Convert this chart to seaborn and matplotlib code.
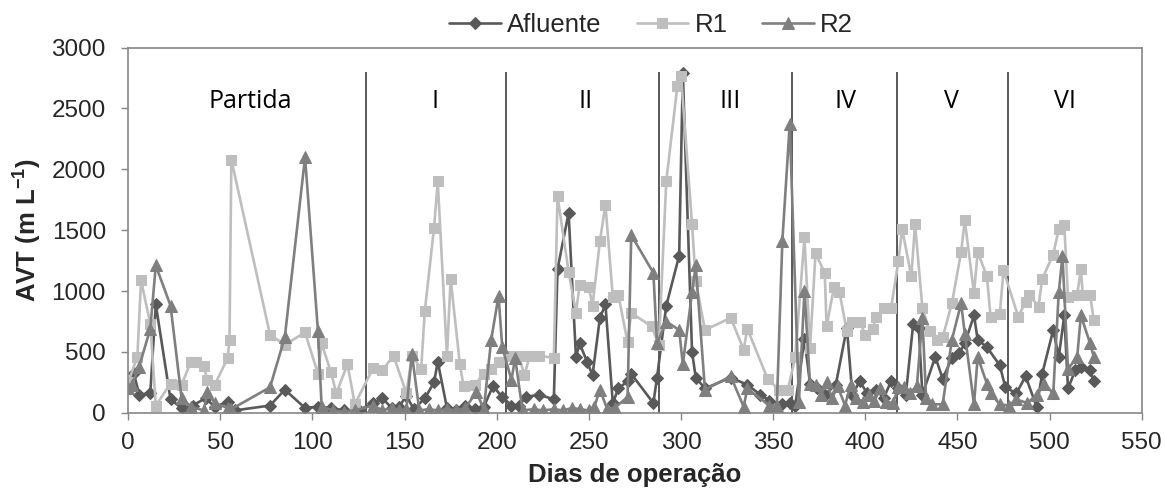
import matplotlib
matplotlib.use("Agg")
import matplotlib.pyplot as plt
import seaborn as sns
import pandas as pd

# Operation day and volatile-acid concentration for each stream
afluente_dias = [0, 3, 6, 12, 15, 23, 29, 35, 42, 47, 54, 58, 77, 85, 96, 103, 110, 117, 125,
                 133, 138, 143, 147, 151, 155, 161, 166, 168, 173, 178, 183, 188, 193, 198, 203,
                 208, 212, 216, 223, 231, 233, 239, 243, 245, 249, 252, 256, 259, 263, 266, 271,
                 273, 285, 287, 292, 299, 301, 306, 308, 313, 327, 336, 343, 348, 355, 359, 362,
                 367, 370, 374, 378, 384, 390, 393, 397, 401, 406, 410, 414, 418, 422, 426, 429,
                 431, 438, 442, 447, 451, 454, 459, 461, 466, 473, 476, 482, 487, 493, 496, 502,
                 505, 508, 510, 514, 517, 522, 524]
afluente_avt = [200, 330, 150, 160, 890, 110, 40, 60, 120, 50, 90, 20, 60, 190, 40, 50, 40, 20, 20,
                80, 120, 40, 50, 140, 30, 120, 250, 420, 40, 20, 60, 30, 50, 220, 130,
                60, 60, 130, 150, 110, 1180, 1640, 460, 570, 420, 310, 780, 890, 80, 200, 260,
                320, 80, 290, 880, 1290, 2790, 500, 290, 200, 290, 230, 150, 100, 70, 80, 60,
                610, 240, 200, 150, 230, 700, 150, 260, 160, 190, 120, 260, 200, 150, 730, 700,
                150, 460, 280, 450, 490, 570, 800, 600, 540, 390, 210, 160, 300, 50, 320, 680,
                460, 800, 200, 350, 380, 350, 260]

r1_dias = [0, 5, 7, 12, 15, 23, 29, 34, 37, 41, 43, 47, 54, 55, 56, 77, 85, 96, 103, 105, 110,
           113, 119, 123, 133, 138, 144, 151, 154, 159, 161, 166, 168, 173, 175, 180, 182, 188,
           193, 197, 201, 207, 212, 215, 218, 223, 231, 233, 239, 243, 245, 250, 252, 256, 259,
           263, 266, 271, 273, 284, 288, 292, 298, 300, 306, 308, 313, 327, 334, 336, 347, 353,
           358, 362, 367, 370, 373, 378, 379, 383, 386, 390, 393, 397, 400, 404, 406, 410, 414,
           418, 420, 425, 427, 431, 435, 439, 442, 447, 452, 454, 459, 461, 466, 468, 473, 475,
           483, 487, 489, 494, 496, 502, 505, 508, 510, 515, 517, 518, 522, 524]
r1_avt = [250, 460, 1090, 730, 60, 240, 230, 420, 420, 385, 270, 230, 450, 600, 2080, 640, 560,
          660, 320, 570, 335, 160, 400, 70, 370, 350, 470, 160, 470, 360, 840, 1520, 1900, 470,
          1100, 400, 220, 230, 320, 360, 420, 470, 470, 310, 470, 470, 450, 1780, 1160, 820, 1050,
          1030, 880, 1410, 1710, 950, 970, 580, 820, 710, 560, 1900, 2680, 2770, 1550, 1080, 680,
          780, 520, 690, 280, 190, 190, 460, 1440, 530, 1310, 1150, 710, 1030, 990, 670, 750, 750,
          640, 690, 790, 860, 860, 1250, 1510, 1120, 1550, 860, 670, 600, 620, 900, 1320, 1580,
          980, 1320, 1120, 790, 810, 1170, 790, 910, 970, 870, 1100, 1300, 1510, 1540, 950, 970,
          1180, 970, 970, 760]

r2_dias = [0, 2, 6, 12, 15, 23, 29, 34, 41, 43, 47, 54, 56, 77, 85, 96, 103, 105, 111, 117, 123,
           133, 138, 143, 147, 151, 154, 158, 163, 168, 173, 178, 183, 189, 193, 197, 201, 203,
           208, 210, 214, 220, 225, 231, 236, 241, 245, 250, 253, 256, 260, 264, 271, 273, 285,
           287, 292, 299, 301, 306, 308, 313, 327, 334, 336, 348, 352, 355, 359, 364, 367, 370,
           373, 376, 379, 382, 385, 389, 392, 395, 399, 402, 405, 408, 411, 415, 418, 421, 424,
           428, 431, 433, 436, 442, 447, 452, 454, 459, 461, 466, 468, 473, 478, 482, 488, 493,
           497, 502, 505, 507, 510, 515, 517, 522, 524]
r2_avt = [200, 230, 380, 690, 1210, 880, 120, 50, 20, 170, 80, 40, 30, 210, 620, 2100, 670, 50,
          20, 10, 20, 60, 20, 40, 20, 30, 480, 20, 30, 20, 30, 20, 40, 170, 30, 600, 960, 540,
          270, 450, 20, 30, 20, 30, 20, 40, 30, 20, 50, 190, 30, 40, 130, 1460, 1150, 570, 750,
          680, 400, 990, 1210, 190, 300, 50, 200, 60, 60, 1410, 2370, 90, 1000, 240, 230, 150,
          250, 120, 220, 60, 230, 120, 90, 150, 100, 200, 90, 80, 210, 210, 160, 220, 780, 120,
          70, 70, 600, 900, 650, 70, 460, 240, 160, 70, 60, 110, 80, 150, 240, 160, 990, 1290,
          360, 460, 800, 570, 460]

# Boundaries and names of the operating phases
period_bounds = [129, 205, 288, 360, 417, 477.5]
period_names = ["Partida", "I", "II", "III", "IV", "V", "VI"]
period_label_days = [66, 166.5, 248, 326.5, 389.5, 447, 508.5]

sns.set_theme(style="white")
plt.rcParams["font.family"] = ["Liberation Sans", "DejaVu Sans"]
plt.rcParams["mathtext.fontset"] = "custom"
plt.rcParams["mathtext.rm"] = "Liberation Sans"
plt.rcParams["mathtext.bf"] = "Liberation Sans:bold"

fig = plt.figure(figsize=(11.65, 4.95), dpi=100)
ax = fig.add_axes([0.110, 0.166, 0.870, 0.738])

series = [
    ("Afluente", afluente_dias, afluente_avt, "#595959", "D", 6.5),
    ("R1", r1_dias, r1_avt, "#BEBEBE", "s", 7.5),
    ("R2", r2_dias, r2_avt, "#7F7F7F", "^", 8.5),
]
for name, dias, avt, color, mk, ms in series:
    df = pd.DataFrame({"Dias": dias, "AVT": avt})
    sns.lineplot(data=df, x="Dias", y="AVT", ax=ax, color=color, marker=mk,
                 markersize=ms, markeredgecolor=color, linewidth=1.9,
                 estimator=None, label=name)

ax.vlines(period_bounds, 0, 2800, colors="#595959", linewidth=1.4, zorder=1)
for d, name in zip(period_label_days, period_names):
    ax.text(d, 2555, name, ha="center", va="center", fontsize=18,
            family="Open Sans", color="black")

ax.set_xlim(0, 550)
ax.set_ylim(0, 3000)
ax.set_xticks(range(0, 551, 50))
ax.set_yticks(range(0, 3001, 500))
ax.tick_params(axis="both", labelsize=17.5, direction="out", length=5,
               width=1, color="#868686", bottom=True, left=True)
ax.tick_params(axis="x", pad=9)
ax.tick_params(axis="y", pad=11)
for s in ax.spines.values():
    s.set_color("#868686")
    s.set_linewidth(1.2)

ax.set_xlabel("Dias de operação", fontsize=18.5, fontweight="bold", labelpad=6)
ax.set_ylabel(r"AVT (m L$^{\mathbf{-1}}$)", fontsize=18.5, fontweight="bold", labelpad=6)

handles, labels = ax.get_legend_handles_labels()
ax.legend_.remove()
fig.legend(handles, labels, loc="center", bbox_to_anchor=(0.559, 0.949), ncol=3,
           frameon=False, fontsize=18.5, handlelength=2.0, columnspacing=1.36,
           handletextpad=0.25, borderaxespad=0)

fig.savefig("out.png", dpi=100)
